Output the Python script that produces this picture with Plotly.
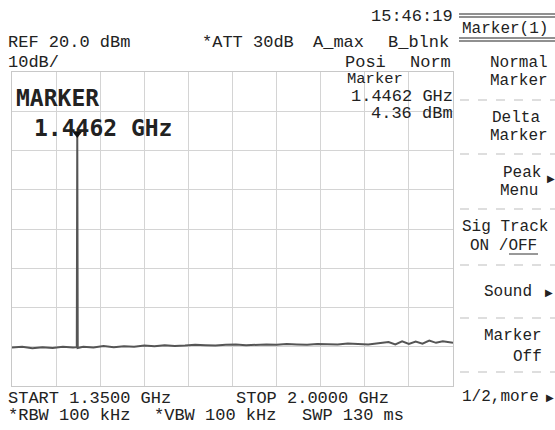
import plotly.graph_objects as go

# Sweep settings and marker readout
START_GHZ = 1.35
STOP_GHZ = 2.0
REF_DBM = 20.0
DB_PER_DIV = 10
N_DIV_Y = 8
MARKER_FREQ = 1.4462   # GHz
MARKER_LEVEL = 4.36    # dBm

# Trace A (max hold): frequency in GHz, level in dBm
freq_ghz = [1.350, 1.365, 1.380, 1.395, 1.410, 1.425, 1.440, 1.4455, MARKER_FREQ,
            1.4469, 1.455, 1.470, 1.485, 1.500, 1.515, 1.530, 1.545, 1.560, 1.575,
            1.590, 1.605, 1.620, 1.635, 1.650, 1.665, 1.680, 1.695, 1.710, 1.725,
            1.740, 1.755, 1.770, 1.785, 1.800, 1.815, 1.830, 1.845, 1.860, 1.875,
            1.890, 1.905, 1.915, 1.925, 1.935, 1.945, 1.955, 1.965, 1.975, 1.985, 2.000]
level_dbm = [-50.2, -50.0, -50.4, -50.1, -50.3, -50.0, -50.2, -50.1, MARKER_LEVEL,
             -50.3, -50.0, -50.2, -49.8, -50.1, -49.9, -50.0, -49.7, -49.9, -49.6,
             -49.8, -49.7, -49.5, -49.6, -49.7, -49.5, -49.4, -49.6, -49.5, -49.4,
             -49.5, -49.3, -49.4, -49.5, -49.3, -49.4, -49.4, -49.2, -49.3, -49.4,
             -49.1, -48.8, -49.4, -48.6, -49.3, -48.7, -49.2, -48.4, -49.0, -48.6, -49.0]

# Softkey labels (menu "Marker(1)")
softkeys = [
    ("Normal", 490, 63), ("Marker", 490, 81),
    ("Delta", 492, 118), ("Marker", 490, 136),
    ("Peak", 503, 173), ("Menu", 500, 191),
    ("Sig Track", 462, 227), ("ON /OFF", 470, 246),
    ("Sound", 484, 292),
    ("Marker", 484, 336), ("Off", 513, 357),
    ("1/2,more", 462, 397),
]
softkey_arrows = [(551, 178), (549, 292), (550, 397)]
softkey_separators = [100, 154, 209, 265, 318, 372]

W, H = 555, 430
L, R, T, B = 12, 453, 72, 386
MONO = "Liberation Mono, DejaVu Sans Mono, monospace"


def px(x):
    return (x - L) / (R - L)


def py(y):
    return (B - y) / (B - T)


fig = go.Figure()
fig.add_trace(go.Scatter(
    x=freq_ghz, y=level_dbm, mode="lines",
    line=dict(color="#555555", width=2),
    hoverinfo="skip", showlegend=False,
))
fig.add_trace(go.Scatter(
    x=[MARKER_FREQ], y=[MARKER_LEVEL], mode="markers",
    marker=dict(symbol="triangle-down", size=9, color="#111"),
    hoverinfo="skip", showlegend=False,
))

ann = []


def text(s, x, y, size=17, family=MONO, color="#222", anchor="left"):
    ann.append(dict(text=s, x=px(x), y=py(y), xref="paper", yref="paper",
                    xanchor=anchor, yanchor="middle", showarrow=False,
                    borderpad=0, borderwidth=0,
                    font=dict(family=family, size=size, color=color)))


# Header lines
text("15:46:19", 371, 17)
text("REF %.1f dBm" % REF_DBM, 8, 43)
text("*ATT 30dB", 202, 43)
text("A_max", 313, 43)
text("B_blnk", 388, 43)
text("%ddB/" % DB_PER_DIV, 8, 62)
text("Posi", 345, 62)
text("Norm", 410, 62)

# Marker readout
text("Marker", 347, 79, size=15.5)
text("%.4f GHz" % MARKER_FREQ, 453, 96, anchor="right")
text("%.2f dBm" % MARKER_LEVEL, 453, 113, anchor="right")
text("<b>MARKER</b>", 16, 98, size=23, family="DejaVu Sans Mono")
text("<b>%.4f GHz</b>" % MARKER_FREQ, 34, 128, size=23, family="DejaVu Sans Mono")

# Footer
text("START %.4f GHz" % START_GHZ, 8, 398)
text("STOP %.4f GHz" % STOP_GHZ, 236, 398)
text("*RBW 100 kHz", 8, 415)
text("*VBW 100 kHz", 154, 415)
text("SWP 130 ms", 302, 415)

# Softkey panel
text("Marker(1)", 462, 29, size=16)
for s, x, y in softkeys:
    text(s, x, y, size=16)
for x, y in softkey_arrows:
    text("▶", x, y, size=10, family="DejaVu Sans", color="#222", anchor="center")

shapes = []
for y in (14, 17, 38, 41):
    shapes.append(dict(type="line", xref="paper", yref="paper",
                       x0=px(459), x1=px(555), y0=py(y), y1=py(y),
                       line=dict(color="#222", width=1.2)))
for y in softkey_separators:
    shapes.append(dict(type="line", xref="paper", yref="paper",
                       x0=px(460), x1=px(555), y0=py(y), y1=py(y),
                       line=dict(color="#bdbdbd", width=1, dash="dash")))
# underline under "OFF"
shapes.append(dict(type="line", xref="paper", yref="paper",
                   x0=px(509), x1=px(538), y0=py(254), y1=py(254),
                   line=dict(color="#333", width=1)))

fig.update_layout(
    width=W, height=H,
    margin=dict(l=L, r=W - R, t=T, b=H - B, pad=0),
    paper_bgcolor="white", plot_bgcolor="white",
    annotations=ann, shapes=shapes,
    xaxis=dict(range=[START_GHZ, STOP_GHZ], dtick=(STOP_GHZ - START_GHZ) / 10,
               tick0=START_GHZ, showticklabels=False, ticks="",
               showgrid=True, gridcolor="#d4d4d4", gridwidth=1,
               showline=True, linecolor="#c8c8c8", linewidth=1, mirror=True,
               zeroline=False, fixedrange=True),
    yaxis=dict(range=[REF_DBM - DB_PER_DIV * N_DIV_Y, REF_DBM], dtick=DB_PER_DIV,
               tick0=REF_DBM, showticklabels=False, ticks="",
               showgrid=True, gridcolor="#d4d4d4", gridwidth=1,
               showline=True, linecolor="#c8c8c8", linewidth=1, mirror=True,
               zeroline=False, fixedrange=True),
)

fig.write_html("out.html", config={"displayModeBar": False})
